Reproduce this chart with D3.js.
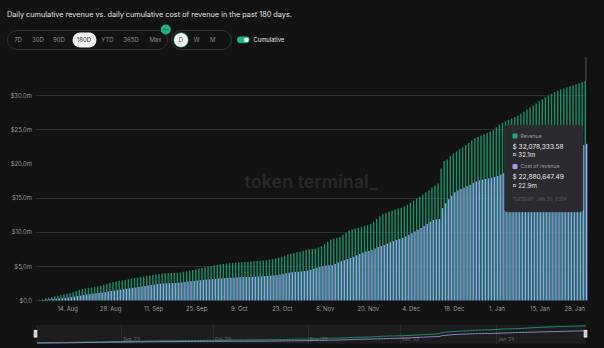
<!DOCTYPE html>
<html><head><meta charset="utf-8">
<script src="https://cdn.jsdelivr.net/npm/d3@7"></script>
<style>
html,body{margin:0;padding:0;background:#121212;}
svg{display:block;font-family:Inter,"Noto Sans",sans-serif;}
</style></head>
<body><svg id="c" width="604" height="348"></svg>
<script>
// ---- data (millions USD), 180 days: 2023-08-04 .. 2024-01-30 ----
const startDate = "2023-08-04";
const revenue = [
0.05,0.12,0.2,0.3,0.4,0.5,0.6,0.7,0.8,0.9,
1.0,1.1,1.2,1.4,1.55,1.65,1.75,1.85,1.9,2.0,
2.05,2.15,2.3,2.45,2.6,2.7,2.8,2.9,2.95,3.0,
3.1,3.2,3.3,3.35,3.45,3.5,3.6,3.65,3.75,3.8,
3.87,3.95,4.0,4.0,4.02,4.03,4.05,4.1,4.2,4.3,
4.38,4.45,4.55,4.65,4.75,4.85,4.95,5.05,5.12,5.2,
5.27,5.35,5.4,5.45,5.5,5.52,5.55,5.6,5.62,5.65,
5.7,5.75,5.78,5.8,5.85,5.9,5.98,6.05,6.15,6.25,
6.4,6.55,6.7,6.85,6.95,7.05,7.1,7.25,7.4,7.5,
7.55,7.6,7.75,7.95,8.25,8.6,8.9,9.05,9.15,9.3,
9.6,9.9,10.2,10.35,10.5,10.6,10.75,10.9,11.0,11.2,
11.5,11.9,12.3,12.6,12.8,13.0,13.15,13.3,13.45,13.55,
13.75,14.0,14.3,14.6,14.9,15.2,15.5,15.8,16.1,16.5,
16.8,17.1,19.3,20.4,20.6,21.1,21.5,21.8,22.1,22.4,
22.7,23.0,23.4,23.7,23.9,24.1,24.3,24.5,24.7,24.9,
25.3,25.7,26.0,26.2,26.4,26.6,26.8,27.0,27.3,27.6,
27.9,28.2,28.5,28.8,29.1,29.4,29.7,29.9,30.2,30.45,
30.65,30.85,31.0,31.15,31.3,31.45,31.6,31.75,31.9,32.08];
const costOfRevenue = [
0.02,0.05,0.08,0.12,0.18,0.22,0.25,0.28,0.3,0.35,
0.42,0.5,0.58,0.65,0.72,0.8,0.88,0.95,1.0,1.05,
1.1,1.15,1.22,1.3,1.38,1.45,1.5,1.58,1.65,1.72,
1.78,1.85,1.9,1.98,2.05,2.12,2.2,2.27,2.33,2.4,
2.45,2.5,2.5,2.52,2.53,2.55,2.6,2.65,2.7,2.78,
2.82,2.88,2.92,2.97,3.0,3.05,3.08,3.12,3.17,3.22,
3.25,3.28,3.3,3.32,3.35,3.38,3.4,3.42,3.43,3.45,
3.47,3.48,3.5,3.52,3.55,3.6,3.65,3.68,3.72,3.8,
3.9,3.98,4.05,4.12,4.18,4.2,4.25,4.3,4.4,4.5,
4.65,4.8,4.9,5.0,5.1,5.15,5.2,5.35,5.55,5.75,
5.9,6.05,6.2,6.4,6.6,6.8,7.0,7.15,7.25,7.4,
7.6,7.8,7.95,8.1,8.3,8.5,8.7,8.85,9.0,9.15,
9.35,9.6,9.85,10.1,10.35,10.6,10.9,11.2,11.5,11.75,
11.85,11.9,13.5,14.2,14.8,15.3,15.8,16.1,16.3,16.5,
16.7,16.9,17.2,17.4,17.55,17.65,17.75,17.85,17.95,18.05,
18.2,18.4,18.6,18.8,19.0,19.2,19.4,19.55,19.7,19.85,
20.0,20.15,20.3,20.45,20.6,20.75,20.9,21.05,21.2,21.35,
21.5,21.65,21.8,21.95,22.1,22.25,22.4,22.55,22.7,22.89];
const yTicks = [0,5,10,15,20,25,30];
const yTickLabels = ["$0.0","$5.0m","$10.0m","$15.0m","$20.0m","$25.0m","$30.0m"];
const gridTicks = [5,10,15,25,30];
const xTickDates = ["2023-08-14","2023-08-28","2023-09-11","2023-09-25","2023-10-09","2023-10-23","2023-11-06","2023-11-20","2023-12-04","2023-12-18","2024-01-01","2024-01-15","2024-01-29"];
const xTickLabels = ["14. Aug","28. Aug","11. Sep","25. Sep","9. Oct","23. Oct","6. Nov","20. Nov","4. Dec","18. Dec","1. Jan","15. Jan","29. Jan"];
const navDates = ["2023-09-01","2023-10-01","2023-11-01","2023-12-01","2024-01-01"];
const navLabels = ["Sep '23","Oct '23","Nov '23","Dec '23","Jan '24"];
const rangeButtons = ["7D","30D","90D","180D","YTD","365D","Max"];
const granButtons = ["D","W","M"];
const tooltipRows = [
  {name:"Revenue", exact:"$ 32,078,333.58", approx:"≈ 32.1m"},
  {name:"Cost of revenue", exact:"$ 22,880,647.49", approx:"≈ 22.9m"}];
const tooltipDate = "TUESDAY, JAN 30, 2024";

const colRev = "#14946e", colCost = "#a49cf2";
const parse = d3.utcParse("%Y-%m-%d"), fmt = d3.utcFormat("%Y-%m-%d");
const days = d3.utcDay.range(parse(startDate), d3.utcDay.offset(parse(startDate), 180)).map(fmt);
const data = days.map((d,i)=>({d, rev:revenue[i], cost:costOfRevenue[i]}));

const svg = d3.select("#c");
svg.append("rect").attr("width",604).attr("height",348).attr("fill","#121212");

// title
svg.append("text").attr("x",7).attr("y",17).attr("fill","#e2e2e2").attr("font-size",7.3)
  .text("Daily cumulative revenue vs. daily cumulative cost of revenue in the past 180 days.");

// range button group
const bg = svg.append("g");
bg.append("rect").attr("x",7.5).attr("y",30.5).attr("width",160).attr("height",19).attr("rx",9.5)
  .attr("fill","none").attr("stroke","#333").attr("stroke-width",1);
const btnX = [18,38,59,84,107.5,131,155.5];
rangeButtons.forEach((b,i)=>{
  if(b==="180D"){
    bg.append("rect").attr("x",72.5).attr("y",32.5).attr("width",24).attr("height",15).attr("rx",7.5).attr("fill","#f2f2f2");
  }
  bg.append("text").attr("x",btnX[i]).attr("y",42.3).attr("text-anchor","middle")
    .attr("font-size",6).attr("fill",b==="180D"?"#333":"#8e8e8e").text(b);
});
bg.append("circle").attr("cx",165.8).attr("cy",29.5).attr("r",5).attr("fill","#19b888");
bg.append("text").attr("x",165.8).attr("y",30.6).attr("text-anchor","middle").attr("font-size",3).attr("fill","#0b3b2b").text("Pro");

// granularity group
bg.append("rect").attr("x",171.5).attr("y",30.5).attr("width",60).attr("height",19).attr("rx",9.5)
  .attr("fill","none").attr("stroke","#333");
const gx = [181,196.7,212.7];
granButtons.forEach((b,i)=>{
  if(i===0) bg.append("circle").attr("cx",181).attr("cy",40).attr("r",7.3).attr("fill","#f2f2f2").attr("stroke","#1a7d5e").attr("stroke-width",0.6);
  bg.append("text").attr("x",gx[i]).attr("y",42.3).attr("text-anchor","middle").attr("font-size",6)
    .attr("fill",i===0?"#555":"#8e8e8e").text(b);
});
// toggle
bg.append("rect").attr("x",237).attr("y",36.5).attr("width",12.5).attr("height",6.5).attr("rx",3.25).attr("fill","#19b888");
bg.append("circle").attr("cx",246.3).attr("cy",39.75).attr("r",2.3).attr("fill","#fff");
bg.append("text").attr("x",253.5).attr("y",41.8).attr("font-size",5.8).attr("fill","#e6e6e6").text("Cumulative");

// scales
const x = d3.scaleBand().domain(days).range([35.5,587.5]).paddingInner(0).paddingOuter(0);
const y = d3.scaleLinear().domain([0,30]).range([300.5,95.2]);

// watermark
svg.append("text").attr("x",311).attr("y",187.5).attr("text-anchor","middle").attr("font-size",18)
  .attr("font-weight",600).attr("fill","#292929").text("token terminal_");

// grid
svg.append("g").selectAll("line").data(gridTicks).join("line")
  .attr("x1",36).attr("x2",586).attr("y1",d=>Math.round(y(d))+0.5).attr("y2",d=>Math.round(y(d))+0.5)
  .attr("stroke","#2e2e2e").attr("stroke-width",1);

// y labels
const yAxis = d3.axisLeft(y).tickValues(yTicks).tickFormat((d,i)=>yTickLabels[i]).tickSize(0).tickPadding(0);
const ya = svg.append("g").attr("transform","translate(32,0)").call(yAxis);
ya.select(".domain").remove();
ya.selectAll("text").attr("font-size",5.9).attr("fill","#9a9a9a").attr("font-family","Inter,sans-serif").attr("dy","0.32em");

// bars
const step = x.step(), bw = step*0.46;
const bars = svg.append("g");
bars.selectAll(".rev").data(data).join("rect").attr("class","rev")
  .attr("x",d=>x(d.d)+step*0.04).attr("width",bw)
  .attr("y",d=>y(d.rev)).attr("height",d=>y(0)-y(d.rev)).attr("fill",colRev);
bars.selectAll(".cost").data(data).join("rect").attr("class","cost")
  .attr("x",d=>x(d.d)+step*0.04+bw).attr("width",bw)
  .attr("y",d=>y(d.cost)).attr("height",d=>y(0)-y(d.cost)).attr("fill",colCost);

// crosshair
const last = data[data.length-1];
svg.append("line").attr("x1",x(last.d)+step/2).attr("x2",x(last.d)+step/2).attr("y1",57).attr("y2",y(last.rev))
  .attr("stroke","#555").attr("stroke-width",1);

// x labels
const xa = svg.append("g");
xTickDates.forEach((d,i)=>{
  let cx = x(d)+step/2;
  const t = xa.append("text").attr("y",311).attr("text-anchor","middle").attr("font-size",5.9)
    .attr("fill","#9a9a9a").text(xTickLabels[i]);
  t.attr("x",cx);
  const w = t.node().getComputedTextLength();
  if(cx + w/2 > 585) t.attr("x",585 - w/2);
});

// tooltip
const tt = svg.append("g").attr("transform","translate(504.5,125)");
tt.append("rect").attr("width",78.5).attr("height",87).attr("rx",3).attr("fill","#2b2b2f").attr("stroke","#38383c").attr("stroke-width",0.5);
[colRev,colCost].forEach((c,i)=>{
  const oy = i*30.5;
  tt.append("rect").attr("x",8).attr("y",8.5+oy).attr("width",5).attr("height",5).attr("rx",1).attr("fill",i===0?"#1aa77c":c);
  tt.append("text").attr("x",16).attr("y",12.8+oy).attr("font-size",5.2).attr("fill","#9a9a9e").text(tooltipRows[i].name);
  tt.append("text").attr("x",8).attr("y",23.5+oy).attr("font-size",6.6).attr("fill","#eeeeee").text(tooltipRows[i].exact);
  tt.append("text").attr("x",8).attr("y",32+oy).attr("font-size",6.2).attr("fill","#eeeeee").text(tooltipRows[i].approx);
});
tt.append("text").attr("x",8).attr("y",76).attr("font-size",4.6).attr("fill","#5e5e62").text(tooltipDate);

// navigator
const nav = svg.append("g");
nav.append("rect").attr("x",36).attr("y",325).attr("width",550).attr("height",18.5).attr("fill","#1d1d1d");
const ny = d3.scaleLinear().domain([0,32.08]).range([343,325.8]);
navDates.forEach((d,i)=>{
  const xx = Math.round(x(d))+0.5;
  nav.append("line").attr("x1",xx).attr("x2",xx).attr("y1",325).attr("y2",343.5).attr("stroke","#2c2c2c");
  nav.append("text").attr("x",xx+1.5).attr("y",341).attr("font-size",4.6).attr("fill","#6e6e6e").text(navLabels[i]);
});
const ln = key => d3.line().x(d=>x(d.d)+step/2).y(d=>ny(d[key]));
nav.append("path").datum(data).attr("d",ln("rev")).attr("fill","none").attr("stroke","#178f6a").attr("stroke-width",1);
nav.append("path").datum(data).attr("d",ln("cost")).attr("fill","none").attr("stroke","#8a84c8").attr("stroke-width",1);
[35.5,585.5].forEach(hx=>{
  nav.append("rect").attr("x",hx-1.7).attr("y",330).attr("width",3.4).attr("height",7.5).attr("rx",0.6)
    .attr("fill","#f0f0f0").attr("stroke","#999").attr("stroke-width",0.4);
  nav.append("line").attr("x1",hx-0.5).attr("x2",hx-0.5).attr("y1",331.5).attr("y2",336).attr("stroke","#888").attr("stroke-width",0.4);
  nav.append("line").attr("x1",hx+0.5).attr("x2",hx+0.5).attr("y1",331.5).attr("y2",336).attr("stroke","#888").attr("stroke-width",0.4);
});
</script></body></html>
